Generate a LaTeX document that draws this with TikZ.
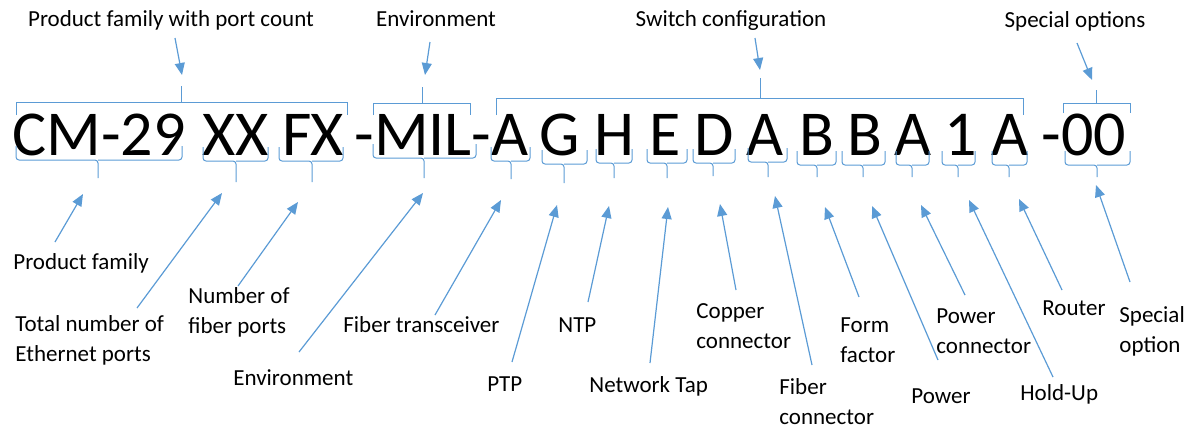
\documentclass[tikz,border=0pt]{standalone}
\usepackage{fontspec}
\setmainfont{Carlito}
\usetikzlibrary{arrows.meta}
\definecolor{accent}{HTML}{5B9BD5}

% Bracket above a group: left, right, top line, side end, tick x, tick top
\newcommand\TopBrace[6]{%
  \draw[brk] (#1,#4) -- (#1,#3) -- (#2,#3) -- (#2,#4);
  \draw[brk] (#5,#3) -- (#5,#6);}
% Bracket below a group: left, right, line y, tick x, tick bottom
\newcommand\LowBrace[5]{%
  \draw[brk, rounded corners=1.5pt] (#1,#3-14) -- (#1,#3) -- (#4,#3) -- (#4,#5);
  \draw[brk, rounded corners=1.5pt] (#2,#3-14) -- (#2,#3) -- (#4,#3);}

\begin{document}
\begin{tikzpicture}[x=0.5pt, y=-0.5pt,
  code/.style={anchor=base, inner sep=0pt, font=\fontsize{32}{38}\selectfont},
  ttl/.style={anchor=base, inner sep=0pt, font=\fontsize{11.5}{13}\selectfont},
  lbl/.style={anchor=west, inner sep=0pt, align=left, font=\fontsize{11.5}{15}\selectfont},
  brk/.style={draw=accent, line width=0.5pt},
  pointer/.style={draw=accent, line width=0.6pt, -{Triangle[length=6pt,width=5pt]}}]

\useasboundingbox (0,0) rectangle (1190,430);

% ---- part number ----
\node[code] (k1)  at (99,155)   {CM-29};
\node[code] (k2)  at (236,155)  {XX};
\node[code] (k3)  at (313,155)  {FX};
\node[code] (k4)  at (423,155)  {-MIL-};
\node[code] (k5)  at (510,155)  {A};
\node[code] (k6)  at (560,155)  {G};
\node[code] (k7)  at (614,155)  {H};
\node[code] (k8)  at (665,155)  {E};
\node[code] (k9)  at (714,155)  {D};
\node[code] (k10) at (765,155)  {A};
\node[code] (k11) at (817,155)  {B};
\node[code] (k12) at (865,155)  {B};
\node[code] (k13) at (913,155)  {A};
\node[code] (k14) at (961,155)  {1};
\node[code] (k15) at (1010,155) {A};
\node[code] (k16) at (1084,155) {-00};

% ---- group brackets ----
\TopBrace{16}{347}{102}{115}{181}{86}
\TopBrace{373}{470}{103}{115}{422}{87}
\TopBrace{496}{1023}{98}{115}{760}{78}
\TopBrace{1063}{1130}{103}{113}{1096}{90}

% ---- field brackets ----
\LowBrace{16}{182}{160}{98}{178}
\LowBrace{203}{268}{161}{236}{182}
\LowBrace{279}{343}{161}{312}{182}
\LowBrace{373}{476}{158}{424}{178}
\LowBrace{491}{530}{161}{511}{179}
\LowBrace{542}{587}{164}{564}{183}
\LowBrace{596}{632}{163}{614}{178}
\LowBrace{647}{687}{163}{667}{178}
\LowBrace{693}{735}{163}{713}{176}
\LowBrace{748}{787}{162}{768}{177}
\LowBrace{797}{836}{165}{817}{177}
\LowBrace{842}{885}{165}{863}{177}
\LowBrace{896}{929}{165}{912}{177}
\LowBrace{942}{975}{165}{958}{177}
\LowBrace{992}{1027}{165}{1009}{177}
\LowBrace{1065}{1130}{165}{1097}{177}

% ---- group titles ----
\node[ttl] (t1) at (171,26)  {Product family with port count};
\node[ttl] (t2) at (436,26)  {Environment};
\node[ttl] (t3) at (731,26)  {Switch configuration};
\node[ttl] (t4) at (1075,27) {Special options};

\coordinate (t1s) at (175,38);   \coordinate (t1e) at (182,75);
\coordinate (t2s) at (430,42);   \coordinate (t2e) at (425,75);
\coordinate (t3s) at (755,38);   \coordinate (t3e) at (760,70);
\coordinate (t4s) at (1077,43);  \coordinate (t4e) at (1092,80);
\draw[pointer] (t1s) -- (t1e);
\draw[pointer] (t2s) -- (t2e);
\draw[pointer] (t3s) -- (t3e);
\draw[pointer] (t4s) -- (t4e);

% ---- field labels ----
\node[lbl] (f1)  at (13,263)   {Product family};
\node[lbl] (f2)  at (15,340)   {Total number of\\Ethernet ports};
\node[lbl] (f3)  at (188,312)  {Number of\\fiber ports};
\node[lbl] (f4)  at (233,378)  {Environment};
\node[lbl] (f5)  at (343,325)  {Fiber transceiver};
\node[lbl] (f6)  at (487,384)  {PTP};
\node[lbl] (f7)  at (558,325)  {NTP};
\node[lbl] (f8)  at (589,386)  {Network Tap};
\node[lbl] (f9)  at (696,326)  {Copper\\connector};
\node[lbl] (f10) at (779,402)  {Fiber\\connector};
\node[lbl] (f11) at (840,340)  {Form\\factor};
\node[lbl] (f12) at (911,396)  {Power};
\node[lbl] (f13) at (936,331)  {Power\\connector};
\node[lbl] (f14) at (1020,394) {Hold-Up};
\node[lbl] (f15) at (1042,308) {Router};
\node[lbl] (f16) at (1119,331) {Special\\option};

\coordinate (f1s)  at (55,242);   \coordinate (f1e)  at (83,194);
\coordinate (f2s)  at (137,308);  \coordinate (f2e)  at (222,193);
\coordinate (f3s)  at (238,286);  \coordinate (f3e)  at (298,202);
\coordinate (f4s)  at (299,352);  \coordinate (f4e)  at (423,193);
\coordinate (f5s)  at (435,315);  \coordinate (f5e)  at (501,200);
\coordinate (f6s)  at (512,362);  \coordinate (f6e)  at (557,205);
\coordinate (f7s)  at (588,302);  \coordinate (f7e)  at (609,206);
\coordinate (f8s)  at (650,363);  \coordinate (f8e)  at (668,207);
\coordinate (f9s)  at (736,290);  \coordinate (f9e)  at (720,204);
\coordinate (f10s) at (812,365);  \coordinate (f10e) at (775,196);
\coordinate (f11s) at (859,297);  \coordinate (f11e) at (825,207);
\coordinate (f12s) at (938,360);  \coordinate (f12e) at (872,206);
\coordinate (f13s) at (965,295);  \coordinate (f13e) at (921,205);
\coordinate (f14s) at (1053,377); \coordinate (f14e) at (969,200);
\coordinate (f15s) at (1062,290); \coordinate (f15e) at (1019,199);
\coordinate (f16s) at (1130,282); \coordinate (f16e) at (1096,185);
\foreach \i in {1,...,16} \draw[pointer] (f\i s) -- (f\i e);

\end{tikzpicture}
\end{document}
